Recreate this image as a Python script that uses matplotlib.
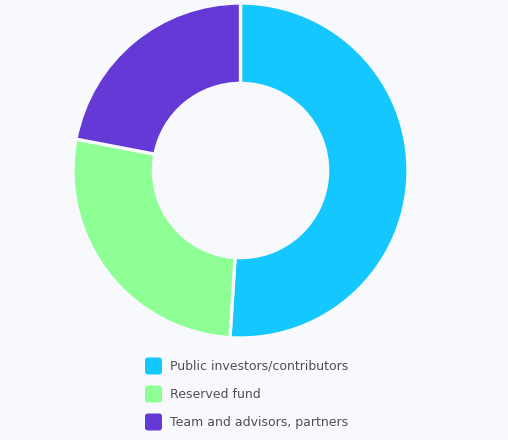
import matplotlib
matplotlib.use("Agg")
import matplotlib.pyplot as plt
from matplotlib.patches import FancyBboxPatch

categories = ["Public investors/contributors", "Reserved fund", "Team and advisors, partners"]
values = [51, 27, 22]
colors = ["#14c8ff", "#8eff95", "#6439d6"]
bg = "#f7f9fd"

W, H = 508, 440
fig = plt.figure(figsize=(W / 100, H / 100), dpi=100, facecolor=bg)

cx, cy, r = 240.5, 170.5, 167.5
ax = fig.add_axes([(cx - r) / W, (H - cy - r) / H, 2 * r / W, 2 * r / H])
ax.set_facecolor(bg)
ax.pie(values, colors=colors, startangle=90, counterclock=False, radius=1,
       wedgeprops=dict(width=0.48, edgecolor=bg, linewidth=2.4))
ax.set_xlim(-1, 1)
ax.set_ylim(-1, 1)
ax.set_aspect("equal")
ax.axis("off")

# legend
box_x, box_w = 145, 17
text_x = 170
ys = [366, 394, 422]
for cat, col, y in zip(categories, colors, ys):
    p = FancyBboxPatch(((box_x) / W, (H - y - box_w / 2) / H), box_w / W, box_w / H,
                       boxstyle="round,pad=0,rounding_size=0.006",
                       transform=fig.transFigure, facecolor=col, edgecolor="none")
    fig.patches.append(p)
    fig.text(text_x / W, (H - y) / H, cat, fontsize=9.0, color="#505050",
             va="center", ha="left")

fig.savefig("out.png", dpi=100, facecolor=bg)
